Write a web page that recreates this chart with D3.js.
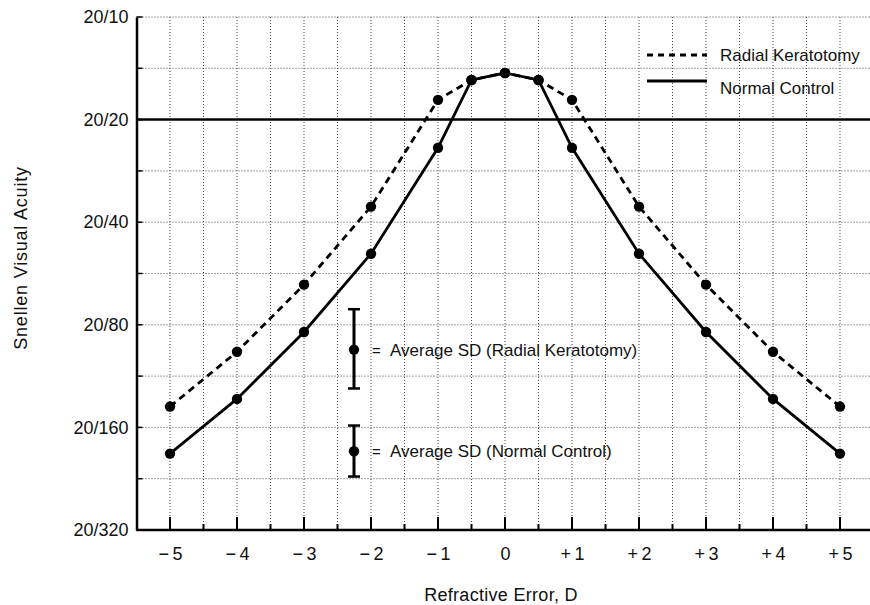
<!DOCTYPE html>
<html>
<head>
<meta charset="utf-8">
<script src="https://cdn.jsdelivr.net/npm/d3@7"></script>
<style>
  body { margin: 0; background: #fff; }
  svg text { font-family: "Liberation Sans", Arial, Helvetica, sans-serif; fill: #111; }
  .grid line { stroke: #444; stroke-width: 1; stroke-dasharray: 1,2; }
</style>
</head>
<body>
<div id="chart"></div>
<script>
// refractive error (D) for each measured point
var refraction = [-5, -4, -3, -2, -1, -0.5, 0, 0.5, 1, 2, 3, 4, 5];
// Snellen denominators (20/x)
var radialK  = [139, 96, 61, 36, 17.5, 15.3, 14.6, 15.3, 17.5, 36, 61, 96, 139];
var normalC  = [191, 132, 84, 49.5, 24.2, 15.3, 14.6, 15.3, 24.2, 49.5, 84, 132, 191];

var xTicks = [-5, -4, -3, -2, -1, 0, 1, 2, 3, 4, 5];
var xTickLabels = ["\u2212\u20095", "\u2212\u20094", "\u2212\u20093", "\u2212\u20092", "\u2212\u20091", "0",
                   "+\u20091", "+\u20092", "+\u20093", "+\u20094", "+\u20095"];
var yTicks = [10, 20, 40, 80, 160, 320];
var yTickLabels = ["20/10", "20/20", "20/40", "20/80", "20/160", "20/320"];

// average SD markers: [low, mid, high] as Snellen denominators
var sdRadialK = [72, 94.6, 123];
var sdNormal  = [158, 188, 223];

var width = 870, height = 605;
var svg = d3.select("#chart").append("svg")
    .attr("width", width).attr("height", height);

var x = d3.scaleLinear().domain([-5.5, 5.5]).range([136.5, 873.5]);
var y = d3.scaleLog().base(2).domain([10, 320]).range([17, 530]);

// grid: every half dioptre and every half octave
var xGrid = d3.range(-5, 5.51, 0.5);
var yGrid = d3.range(0, 11).map(function(k) { return 10 * Math.pow(2, k / 2); });

var grid = svg.append("g").attr("class", "grid");
grid.selectAll(".gx").data(xGrid).enter().append("line")
    .attr("x1", function(d) { return x(d); }).attr("x2", function(d) { return x(d); })
    .attr("y1", y(10)).attr("y2", y(320));
grid.selectAll(".gy").data(yGrid.slice(0, 10)).enter().append("line")
    .attr("x1", x(-5.5)).attr("x2", width)
    .attr("y1", function(d) { return y(d); }).attr("y2", function(d) { return y(d); });

// solid reference line at 20/20
svg.append("line")
    .attr("x1", x(-5.5)).attr("x2", width)
    .attr("y1", y(20)).attr("y2", y(20))
    .attr("stroke", "#000").attr("stroke-width", 2.5);

// axes
var yAxis = d3.axisLeft(y).tickValues(yTicks).tickSize(0).tickPadding(8)
    .tickFormat(function(d, i) { return yTickLabels[i]; });
var gy = svg.append("g").attr("transform", "translate(" + x(-5.5) + ",0)").call(yAxis);
gy.select(".domain").attr("stroke", "#000").attr("stroke-width", 2.5);
gy.selectAll("text").style("font-size", "18px");

// inward y ticks
svg.selectAll(".ytk").data(yGrid).enter().append("line")
    .attr("x1", x(-5.5)).attr("x2", x(-5.5) + 6)
    .attr("y1", function(d) { return y(d); }).attr("y2", function(d) { return y(d); })
    .attr("stroke", "#000").attr("stroke-width", 1.5);

var xAxis = d3.axisBottom(x).tickValues(xTicks).tickSize(0).tickPadding(17)
    .tickFormat(function(d, i) { return xTickLabels[i]; });
var gx = svg.append("g").attr("transform", "translate(0," + y(320) + ")").call(xAxis);
gx.select(".domain").attr("stroke", "#000").attr("stroke-width", 2.5).attr("d", "M" + x(-5.5) + ",0H" + width);
gx.selectAll("text").style("font-size", "18px");

// inward x ticks
svg.selectAll(".xtk").data(xGrid).enter().append("line")
    .attr("x1", function(d) { return x(d); }).attr("x2", function(d) { return x(d); })
    .attr("y1", y(320)).attr("y2", function(d) { return y(320) - (d % 1 === 0 ? 13 : 6); })
    .attr("stroke", "#000").attr("stroke-width", 2);

// axis titles
svg.append("text")
    .attr("transform", "translate(27," + 258 + ") rotate(-90)")
    .attr("text-anchor", "middle").style("font-size", "18px")
    .style("letter-spacing", "0.8px")
    .text("Snellen Visual Acuity");
svg.append("text")
    .attr("x", 501).attr("y", 601)
    .attr("text-anchor", "middle").style("font-size", "18px")
    .style("letter-spacing", "0.3px")
    .text("Refractive Error, D");

// series
var line = d3.line()
    .x(function(d) { return x(d[0]); })
    .y(function(d) { return y(d[1]); });

var series = [
  { name: "Radial Keratotomy", values: radialK, dash: "7,5" },
  { name: "Normal Control", values: normalC, dash: null }
];

series.forEach(function(s) {
  var pts = refraction.map(function(r, i) { return [r, s.values[i]]; });
  svg.append("path")
      .datum(pts)
      .attr("fill", "none")
      .attr("stroke", "#000")
      .attr("stroke-width", 2.8)
      .attr("stroke-dasharray", s.dash)
      .attr("d", line);
  svg.selectAll(null).data(pts).enter().append("circle")
      .attr("cx", function(d) { return x(d[0]); })
      .attr("cy", function(d) { return y(d[1]); })
      .attr("r", 5.2)
      .attr("fill", "#000");
});

// legend
var legend = svg.append("g");
var legendLineY = [55, 81], legendTextY = [61, 94];
series.forEach(function(s, i) {
  legend.append("line")
      .attr("x1", 647).attr("x2", 707).attr("y1", legendLineY[i]).attr("y2", legendLineY[i])
      .attr("stroke", "#000").attr("stroke-width", 3)
      .attr("stroke-dasharray", s.dash ? "6,5" : null);
  legend.append("text")
      .attr("x", 720).attr("y", legendTextY[i])
      .style("font-size", "17px")
      .text(s.name);
});

// average SD markers
var sdItems = [
  { vals: sdRadialK, label: "Average SD (Radial Keratotomy)" },
  { vals: sdNormal,  label: "Average SD (Normal Control)" }
];
var sdX = 354;
sdItems.forEach(function(s) {
  var g = svg.append("g");
  g.append("line").attr("x1", sdX).attr("x2", sdX)
      .attr("y1", y(s.vals[0])).attr("y2", y(s.vals[2]))
      .attr("stroke", "#000").attr("stroke-width", 3);
  [s.vals[0], s.vals[2]].forEach(function(v) {
    g.append("line").attr("x1", sdX - 6).attr("x2", sdX + 6)
        .attr("y1", y(v)).attr("y2", y(v))
        .attr("stroke", "#000").attr("stroke-width", 2.5);
  });
  g.append("circle").attr("cx", sdX).attr("cy", y(s.vals[1])).attr("r", 5.2).attr("fill", "#000");
  g.append("text").attr("x", 372).attr("y", y(s.vals[1]) + 6)
      .style("font-size", "15px").text("=");
  g.append("text").attr("x", 390).attr("y", y(s.vals[1]) + 6)
      .style("font-size", "17px")
      .text(s.label);
});
</script>
</body>
</html>
